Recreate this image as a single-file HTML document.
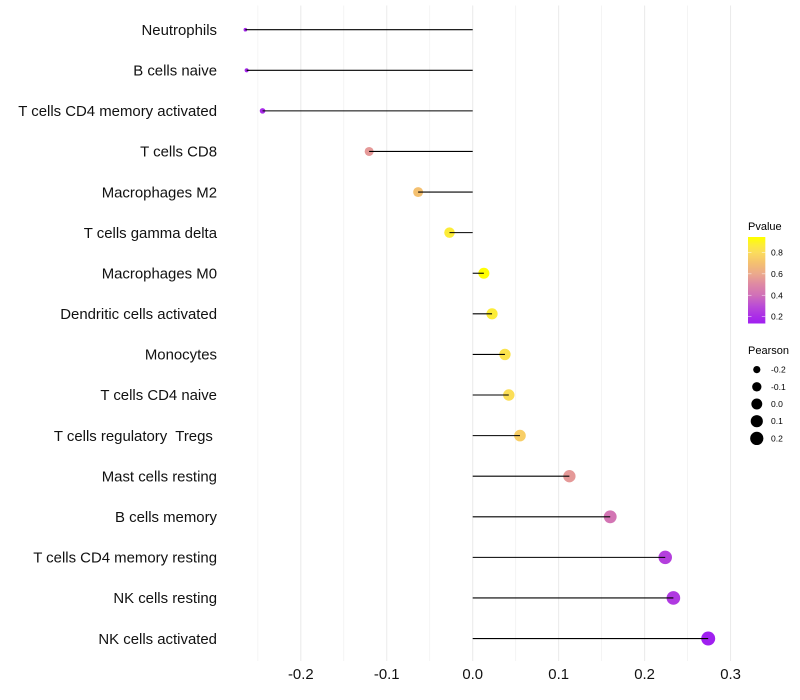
<!DOCTYPE html>
<html>
<head>
<meta charset="utf-8">
<style>
html,body{margin:0;padding:0;background:#fff;width:800px;height:700px;overflow:hidden}
svg{display:block;font-family:"Liberation Sans",Arial,sans-serif}
</style>
</head>
<body>
<svg id="chart" width="800" height="700" viewBox="0 0 800 700" xmlns="http://www.w3.org/2000/svg"></svg>
<script>
const categories = ["Neutrophils","B cells naive","T cells CD4 memory activated","T cells CD8","Macrophages M2","T cells gamma delta","Macrophages M0","Dendritic cells activated","Monocytes","T cells CD4 naive","T cells regulatory  Tregs ","Mast cells resting","B cells memory","T cells CD4 memory resting","NK cells resting","NK cells activated"];
const pearsonValues = [-0.2645,-0.263,-0.2445,-0.1205,-0.0635,-0.027,0.013,0.0225,0.0375,0.042,0.055,0.1125,0.16,0.224,0.2335,0.274];
const pValues = [0.17,0.17,0.19,0.55,0.7,0.87,0.93,0.87,0.83,0.81,0.75,0.55,0.42,0.26,0.24,0.14];
const xTicks = [-0.2,-0.1,0.0,0.1,0.2,0.3];
const xTickLabels = ["-0.2","-0.1","0.0","0.1","0.2","0.3"];
const xMinorTicks = [-0.25,-0.15,-0.05,0.05,0.15,0.25];
const pLegendTicks = [0.8,0.6,0.4,0.2];
const pLegendLabels = ["0.8","0.6","0.4","0.2"];
const sizeLegendValues = [-0.2,-0.1,0.0,0.1,0.2];
const sizeLegendLabels = ["-0.2","-0.1","0.0","0.1","0.2"];

const svg = document.getElementById('chart');
const NS = 'http://www.w3.org/2000/svg';
function make(tag, attrs, text){
  const el = document.createElementNS(NS, tag);
  for (const k in attrs) el.setAttribute(k, attrs[k]);
  if (text !== undefined) { el.textContent = text; el.style.whiteSpace='pre'; }
  svg.appendChild(el);
  return el;
}
const xScale = v => 472.7 + v * 859.5;
const yScale = i => 29.7 + i * 40.59;
const pearsonMin = Math.min(...pearsonValues);
const pearsonMax = Math.max(...pearsonValues);
const rScale = v => 1.8 + 5.2 * Math.sqrt(Math.max(0, (v - pearsonMin) / (pearsonMax - pearsonMin)));
const pY = p => 316.7 - (p - 0.2) * 107.2;
const colorStops = [[0.14,[160,32,240]],[0.2,[170,44,232]],[0.3,[186,76,214]],[0.4,[208,112,184]],[0.5,[222,136,164]],[0.6,[235,169,140]],[0.7,[244,192,112]],[0.8,[251,220,92]],[0.87,[252,236,56]],[0.935,[255,255,0]]];
function pColor(p){
  if (p <= colorStops[0][0]) return 'rgb(' + colorStops[0][1].join(',') + ')';
  for (let i = 1; i < colorStops.length; i++){
    if (p <= colorStops[i][0]){
      const a = colorStops[i-1], b = colorStops[i], t = (p - a[0]) / (b[0] - a[0]);
      return 'rgb(' + a[1].map((c,j) => Math.round(c + (b[1][j] - c) * t)).join(',') + ')';
    }
  }
  return 'rgb(255,255,0)';
}

xMinorTicks.forEach(v => {
  const g = make('line',{x1:xScale(v),x2:xScale(v),y1:5.5,y2:661,stroke:'#f1f1f1','stroke-width':0.75});
  
  
});
xTicks.forEach((v,i) => {
  const g = make('line',{x1:xScale(v),x2:xScale(v),y1:5.5,y2:661,stroke:'#ebebeb','stroke-width':1.07});
  
  
  const t = make('text',{x:xScale(v),y:679,'text-anchor':'middle','font-size':14.9,fill:'#111'},xTickLabels[i]);
  
  
});
categories.forEach((c,i) => {
  const t = make('text',{x:217,y:yScale(i)+5.2,'text-anchor':'end','font-size':14.93,fill:'#111'},c);
  
  
});
categories.forEach((c,i) => {
  const p = make('circle',{cx:xScale(pearsonValues[i]),cy:yScale(i),r:rScale(pearsonValues[i]),fill:pColor(pValues[i])});
  
  
});
categories.forEach((c,i) => {
  const l = make('line',{x1:xScale(0),x2:xScale(pearsonValues[i]),y1:yScale(i),y2:yScale(i),stroke:'#000','stroke-width':1.07});
  
  
});

const pTitle = make('text',{x:748,y:230,'font-size':11,fill:'#000'},'Pvalue');


const barTop = 237, barBottom = 323.5;
for (let y = barTop; y < barBottom; y += 1){
  const p = 0.2 + (316.7 - (y + 0.5)) / 107.2;
  const s = make('rect',{x:748,y:y,width:17.3,height:Math.min(1.2, barBottom - y),fill:pColor(p)});
  
  
}
pLegendTicks.forEach((p,i) => {
  const y = pY(p);
  const a = make('line',{x1:748,x2:751.5,y1:y,y2:y,stroke:'#fff','stroke-width':0.6,'stroke-opacity':0.8});
  
  
  const b = make('line',{x1:761.8,x2:765.3,y1:y,y2:y,stroke:'#fff','stroke-width':0.6,'stroke-opacity':0.8});
  
  
  const t = make('text',{x:771,y:y+3,'font-size':8.53,fill:'#000'},pLegendLabels[i]);
  
  
});

const sTitle = make('text',{x:748,y:354,'font-size':11,fill:'#000'},'Pearson');


sizeLegendValues.forEach((v,i) => {
  const y = 369.6 + i * 17.2;
  const c = make('circle',{cx:756.8,cy:y,r:rScale(v),fill:'#000'});
  
  
  const t = make('text',{x:771,y:y+3,'font-size':8.53,fill:'#000'},sizeLegendLabels[i]);
  
  
});
</script>
</body>
</html>
